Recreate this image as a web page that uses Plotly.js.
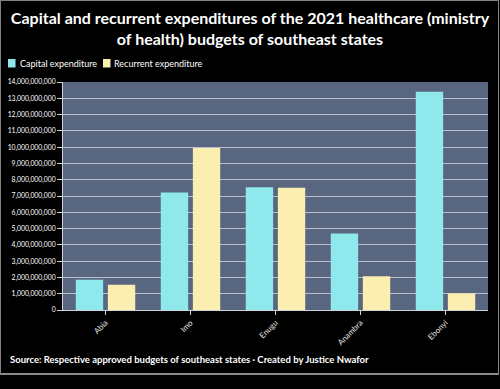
<!DOCTYPE html>
<html>
<head>
<meta charset="utf-8">
<script src="https://cdn.plot.ly/plotly-3.0.1.min.js"></script>
<style>
html,body{margin:0;padding:0;background:#000;}
#wrap{position:relative;width:500px;height:389px;overflow:hidden;}
#chart{position:absolute;left:0;top:0;width:500px;height:389px;}
#frame{position:absolute;left:0;top:0;width:497px;height:372px;border:1px solid #808080;border-bottom:2px solid #8a8a8a;pointer-events:none;}
</style>
</head>
<body>
<div id="wrap"><div id="chart"></div><div id="frame"></div></div>
<script>
const states = ["Abia", "Imo", "Enugu", "Anambra", "Ebonyi"];
const capitalExpenditure = [1.86e9, 7.22e9, 7.53e9, 4.7e9, 13.4e9];
const recurrentExpenditure = [1.55e9, 9.95e9, 7.5e9, 2.07e9, 1.02e9];
const seriesNames = ["Capital expenditure", "Recurrent expenditure"];
const seriesColors = ["#8ee8ec", "#faeeb0"];
const titleText = "Capital and recurrent expenditures of the 2021 healthcare (ministry<br>of health) budgets of southeast states";
const sourceText = "Source: Respective approved budgets of southeast states · Created by Justice Nwafor";

const font = "Lato, 'Open Sans', sans-serif";
const data = [
  {type: "bar", name: seriesNames[0], x: states, y: capitalExpenditure, marker: {color: seriesColors[0]}, hoverinfo: "none"},
  {type: "bar", name: seriesNames[1], x: states, y: recurrentExpenditure, marker: {color: seriesColors[1]}, hoverinfo: "none"}
];

// legend drawn as swatches + text above the plot area (paper coordinates)
const legendSwatchX = [-0.1294, 0.0941];
const legendTextX = [-0.1059, 0.1153];
const shapes = [];
const annotations = [];
seriesNames.forEach((name, i) => {
  shapes.push({type: "rect", xref: "paper", yref: "paper", x0: legendSwatchX[i], x1: legendSwatchX[i] + 0.0177, y0: 1.0636, y1: 1.1009, fillcolor: seriesColors[i], line: {width: 0}});
  annotations.push({text: name, xref: "paper", yref: "paper", x: legendTextX[i], y: 1.0833, xanchor: "left", yanchor: "middle", showarrow: false, font: {family: font, size: 9, color: "#fff"}});
});
annotations.push({text: sourceText, xref: "paper", yref: "paper", x: -0.129, y: -0.219, xanchor: "left", yanchor: "middle", showarrow: false, font: {family: font, size: 9.5, color: "#fff", weight: 700}});

const layout = {
  width: 500, height: 389,
  paper_bgcolor: "#000", plot_bgcolor: "#586680",
  margin: {l: 63, r: 12, t: 82, b: 79},
  font: {family: font, color: "#fff"},
  title: {text: titleText, font: {family: font, size: 16, color: "#fff", weight: 700}, x: 0.5, xanchor: "center", xref: "container", y: 0.938, yanchor: "middle", yref: "container"},
  barmode: "group", bargap: 0.245, bargroupgap: 0.147,
  showlegend: false,
  xaxis: {type: "category", tickangle: -45, tickfont: {family: font, size: 8, color: "#e8e8e8"}, ticks: "outside", ticklen: 4, tickcolor: "#cfd3da", showline: true, linecolor: "#cfd3da", linewidth: 1, showgrid: false, fixedrange: true},
  yaxis: {range: [0, 14e9], dtick: 1e9, tickformat: ",d", tickfont: {family: font, size: 6.8, color: "#fff"}, ticks: "outside", ticklen: 5, tickcolor: "#cfd3da", showline: true, linecolor: "#cfd3da", linewidth: 1, showgrid: true, gridcolor: "#b9c0cc", gridwidth: 1, zeroline: false, fixedrange: true},
  shapes: shapes,
  annotations: annotations
};
Plotly.newPlot("chart", data, layout, {displayModeBar: false, staticPlot: true});
</script>
</body>
</html>
